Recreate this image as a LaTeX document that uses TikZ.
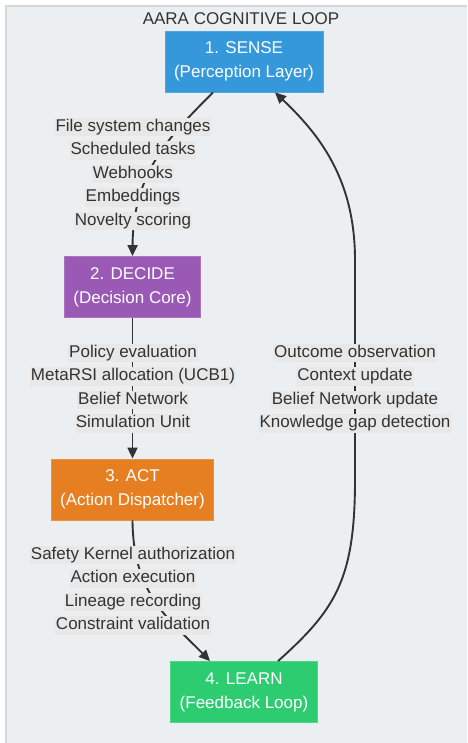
\documentclass[tikz,border=0pt]{standalone}
\usepackage{fontspec}
\setmainfont{Liberation Sans}
\usetikzlibrary{arrows.meta, positioning}
\definecolor{senseblue}{RGB}{52, 152, 219}
\definecolor{decidepurple}{RGB}{155, 89, 182}
\definecolor{actorange}{RGB}{230, 126, 34}
\definecolor{learngreen}{RGB}{46, 204, 113}
\definecolor{framebg}{RGB}{236, 239, 241}
\definecolor{frameedge}{RGB}{212, 216, 219}
\definecolor{lblbg}{RGB}{232, 232, 232}
\definecolor{inkgray}{RGB}{51, 51, 51}

\begin{document}
\begin{tikzpicture}[
  x=1pt, y=-1pt,
  font=\fontsize{17}{24}\selectfont,
  stage/.style={draw=#1!85!white, line width=0.8pt, fill=#1, text=white, align=center, inner xsep=9pt, minimum height=61pt},
  lbl/.style={fill=lblbg, text=inkgray, inner xsep=1pt, inner ysep=1pt, text height=12.5pt, text depth=4pt},
  flow/.style={draw=inkgray, line width=1.9pt, -{Triangle[length=11pt, width=10pt]}}
]
  \useasboundingbox (0,0) rectangle (467,743);
  \fill[framebg] (6,6) rectangle (467,743);
  \draw[frameedge, line width=2pt] (6,743) -- (6,6) -- (467,6);

  \node[text=inkgray] (title) at (241,19) {AARA COGNITIVE LOOP};

  % the four stages
  \node[stage=senseblue] (sense) at (244,61.5) {1. SENSE\\(Perception Layer)};
  \node[stage=decidepurple] (decide) at (132.5,287) {2. DECIDE\\(Decision Core)};
  \node[stage=actorange] (act) at (132.5,489.5) {3. ACT\\(Action Dispatcher)};
  \node[stage=learngreen] (learn) at (244,692) {4. LEARN\\(Feedback Loop)};

  % connectors
  \draw[flow] ([xshift=-31pt]sense.south) .. controls (173,133) and (133,170) .. (decide.north);
  \draw[flow] (decide.south) -- (act.north);
  \draw[flow] (act.south) .. controls (133,595) and (170,620) .. ([xshift=-34pt]learn.north);
  \draw[flow] ([xshift=34pt]learn.north) .. controls (335,610) and (355,580) .. (355,480)
    -- (355,260) .. controls (355,180) and (320,135) .. ([xshift=31pt]sense.south);

  % edge labels, one line each
  \foreach \txt [count=\i] in {File system changes, Scheduled tasks, Webhooks, Embeddings, Novelty scoring}
    \node[lbl] (sdlbl\i) at (133,{103.5+23.5*\i}) {\txt};
  \foreach \txt [count=\i] in {Policy evaluation, MetaRSI allocation (UCB1), Belief Network, Simulation Unit}
    \node[lbl] (dalbl\i) at (133,{329.5+23.5*\i}) {\txt};
  \foreach \txt [count=\i] in {Safety Kernel authorization, Action execution, Lineage recording, Constraint validation}
    \node[lbl] (allbl\i) at (133,{531.5+23.5*\i}) {\txt};
  \foreach \txt [count=\i] in {Outcome observation, Context update, Belief Network update, Knowledge gap detection}
    \node[lbl] (lslbl\i) at (355,{329.5+23.5*\i}) {\txt};
\end{tikzpicture}
\end{document}
